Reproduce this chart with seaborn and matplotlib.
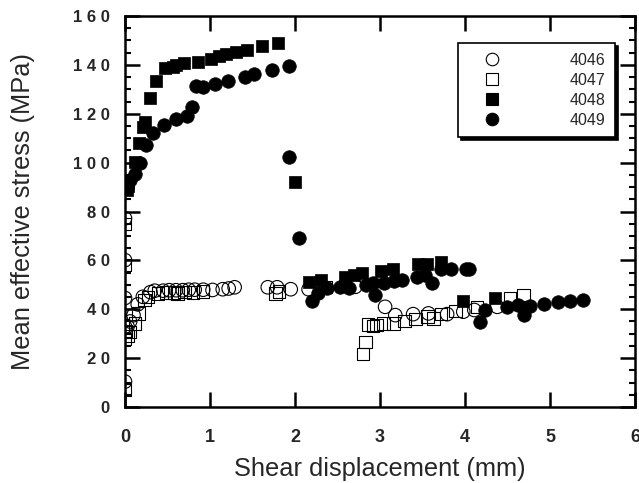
import matplotlib
matplotlib.use("Agg")
import matplotlib.pyplot as plt
import seaborn as sns
import pandas as pd
from matplotlib.ticker import MultipleLocator, FixedLocator

# ---- data ----
x_4046 = [0.0, 0.0, 0.0, 0.0, 0.0, 0.03, 0.06, 0.10, 0.15, 0.21, 0.30, 0.35, 0.45, 0.52, 0.60, 0.68, 0.75,
          0.82, 0.92, 1.03, 1.15, 1.22, 1.29, 1.68, 1.79, 1.95, 2.16, 2.71, 3.06, 3.18, 3.39, 3.57, 3.79,
          3.98, 4.11, 4.38]
y_4046 = [10.4, 32.9, 44.6, 60.1, 77.2, 33.0, 35.0, 37.6, 42.0, 45.1, 47.0, 47.6, 47.6, 47.8, 47.8, 47.8,
          48.0, 48.0, 48.0, 47.9, 48.2, 48.5, 49.0, 49.0, 49.0, 48.2, 48.2, 49.2, 41.0, 37.6, 38.0, 38.3,
          38.0, 39.0, 39.7, 41.0]

x_4047 = [0.0, 0.0, 0.0, 0.0, 0.01, 0.03, 0.06, 0.12, 0.16, 0.23, 0.27, 0.39, 0.48, 0.58, 0.62, 0.70, 0.80,
          0.92, 1.77, 1.81, 2.36, 2.80, 2.83, 2.86, 2.92, 2.96, 3.04, 3.16, 3.29, 3.42, 3.56, 3.63, 3.72,
          3.89, 4.14, 4.53, 4.69]
y_4047 = [7.0, 27.8, 58.0, 75.0, 31.0, 29.0, 30.8, 34.2, 38.3, 43.8, 45.1, 46.5, 46.8, 46.8, 46.5, 47.0,
          46.8, 47.2, 46.5, 47.2, 49.2, 21.6, 26.7, 33.8, 33.1, 33.5, 34.2, 34.2, 35.3, 35.9, 37.0, 36.3,
          38.0, 39.4, 41.0, 44.5, 45.8]

x_4048 = [0.02, 0.03, 0.04, 0.12, 0.17, 0.21, 0.23, 0.29, 0.37, 0.47, 0.56, 0.60, 0.70, 0.86, 1.01, 1.11,
          1.19, 1.31, 1.44, 1.61, 1.80, 2.00, 2.16, 2.31, 2.59, 2.69, 2.79, 3.01, 3.15, 3.45, 3.55, 3.72,
          3.98, 4.35]
y_4048 = [88.8, 90.5, 91.5, 100.4, 107.9, 114.4, 116.7, 126.3, 133.4, 138.6, 139.3, 140.0, 140.9, 141.3,
          142.4, 143.6, 144.4, 145.1, 146.1, 147.7, 149.1, 92.2, 51.3, 52.0, 53.3, 54.0, 54.7, 55.8, 56.3,
          58.5, 58.5, 59.5, 43.4, 44.7]

x_4049 = [0.02, 0.06, 0.12, 0.18, 0.25, 0.33, 0.46, 0.60, 0.73, 0.79, 0.83, 0.92, 1.06, 1.21, 1.41, 1.52,
          1.73, 1.93, 1.93, 2.05, 2.20, 2.27, 2.38, 2.53, 2.64, 2.83, 2.92, 2.94, 3.05, 3.16, 3.26, 3.43,
          3.53, 3.61, 3.72, 3.84, 4.01, 4.05, 4.18, 4.24, 4.49, 4.62, 4.69, 4.76, 4.93, 5.09, 5.24, 5.39]
y_4049 = [90.8, 92.9, 95.2, 99.7, 107.2, 112.2, 115.4, 117.8, 119.2, 122.6, 131.3, 130.8, 132.2, 133.4,
          135.1, 136.3, 137.9, 139.6, 102.4, 69.3, 43.4, 46.5, 48.6, 49.2, 48.8, 49.9, 50.6, 45.8, 50.9,
          51.6, 52.0, 53.1, 54.0, 50.6, 56.3, 56.3, 56.3, 56.3, 34.9, 39.7, 41.0, 41.7, 37.6, 41.4, 42.1,
          42.8, 43.5, 43.8]

series_names = ["4046", "4047", "4048", "4049"]
xticks = [0, 1, 2, 3, 4, 5, 6]
xtick_labels = ["0", "1", "2", "3", "4", "5", "6"]
yticks = [0, 20, 40, 60, 80, 100, 120, 140, 160]
ytick_labels = ["0", "2 0", "4 0", "6 0", "8 0", "1 0 0", "1 2 0", "1 4 0", "1 6 0"]

# ---- style ----
sns.set_style("ticks")
plt.rcParams["font.family"] = ["Liberation Sans", "DejaVu Sans"]

fig = plt.figure(figsize=(6.39, 4.83), dpi=100)
ax = fig.add_axes([0.1956, 0.1573, 0.9937 - 0.1956, 0.9669 - 0.1573])

data = {
    "4046": (x_4046, y_4046, "o", False, 95),
    "4047": (x_4047, y_4047, "s", False, 80),
    "4048": (x_4048, y_4048, "s", True, 80),
    "4049": (x_4049, y_4049, "o", True, 95),
}

handles = []
for name in series_names:
    xs, ys, mk, filled, size = data[name]
    df = pd.DataFrame({"x": xs, "y": ys})
    sns.scatterplot(data=df, x="x", y="y", ax=ax, marker=mk, s=size,
                    color="black", edgecolor="black", linewidth=0.8 if not filled else 0.5,
                    legend=False, zorder=3)
    pc = ax.collections[-1]
    if not filled:
        pc.set_facecolor("none")
    h = plt.Line2D([], [], linestyle="none", marker=mk, markersize=9 if mk == "o" else 8.5,
                   markerfacecolor="black" if filled else "none",
                   markeredgecolor="black", markeredgewidth=0.8, label=name)
    handles.append(h)

ax.set_xlim(0, 6)
ax.set_ylim(0, 160)
ax.xaxis.set_major_locator(FixedLocator(xticks))
ax.yaxis.set_major_locator(FixedLocator(yticks))
ax.yaxis.set_minor_locator(MultipleLocator(5))
ax.set_xticklabels(xtick_labels, fontsize=13, fontweight="bold")
ax.set_yticklabels(ytick_labels, fontsize=12, fontweight="bold")

for sp in ax.spines.values():
    sp.set_visible(True)
    sp.set_linewidth(1.8)
    sp.set_color("black")

ax.tick_params(axis="both", which="major", direction="in", length=11, width=1.8,
               top=True, right=True, color="black")
ax.tick_params(axis="y", which="minor", direction="in", length=4, width=1.5,
               left=True, right=True, color="black")
ax.tick_params(axis="x", which="major", pad=16)
ax.tick_params(axis="y", which="major", pad=11)

ax.set_xlabel("Shear displacement (mm)", fontsize=18.3, labelpad=8)
ax.set_ylabel("Mean effective stress (MPa)", fontsize=18.3, labelpad=27)

leg = ax.legend(handles=handles, loc="upper right", bbox_to_anchor=(0.961, 0.931),
                borderaxespad=0, frameon=True, fancybox=False,
                shadow={"color": "black", "alpha": 1.0},
                fontsize=11.5, handlelength=3.05, handletextpad=3.35, borderpad=0.6,
                labelspacing=0.32)
leg.get_frame().set_edgecolor("black")
leg.get_frame().set_linewidth(1.2)
leg.get_frame().set_alpha(1.0)
leg.get_frame().set_facecolor("white")

fig.savefig("out.png", dpi=100)
